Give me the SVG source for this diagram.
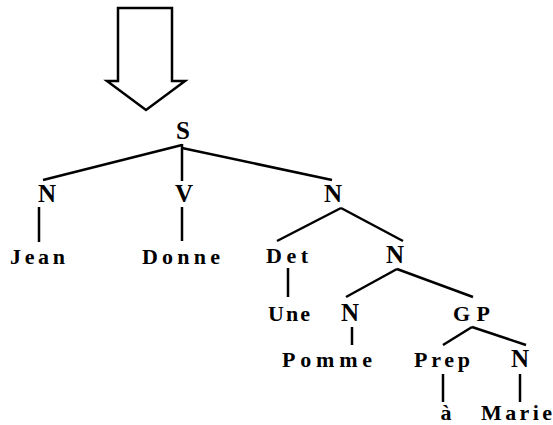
<svg xmlns="http://www.w3.org/2000/svg" width="553" height="425" viewBox="0 0 553 425">
  <style>
    .lbl { font-family: "Liberation Serif", "Times New Roman", serif; font-weight: bold; font-size: 25px; fill: #000; }
    .word { font-family: "Liberation Serif", "Times New Roman", serif; font-weight: bold; font-size: 22px; fill: #000; }
    .edge { stroke: #000; stroke-width: 2.5; fill: none; stroke-linecap: butt; }
  </style>
  <rect width="553" height="425" fill="#fff"/>

  <!-- hollow down arrow above the root -->
  <g id="arrow">
    <polygon points="118,8 172,8 172,81 185,81 146,110 107,81 118,81" fill="#fff" stroke="#000" stroke-width="2.5" stroke-linejoin="miter"/>
  </g>

  <g id="connectors">
    <line class="edge" x1="182" y1="145" x2="43" y2="180"/>
    <line class="edge" x1="182" y1="144" x2="182" y2="181"/>
    <line class="edge" x1="182" y1="148" x2="332" y2="180"/>
    <line class="edge" x1="39" y1="207" x2="39" y2="242"/>
    <line class="edge" x1="182" y1="207" x2="182" y2="241"/>
    <line class="edge" x1="341" y1="208" x2="277" y2="241"/>
    <line class="edge" x1="341" y1="208" x2="403" y2="241"/>
    <line class="edge" x1="288" y1="268" x2="288" y2="297"/>
    <line class="edge" x1="397" y1="269" x2="346" y2="297"/>
    <line class="edge" x1="397" y1="269" x2="473" y2="297"/>
    <line class="edge" x1="352" y1="327" x2="352" y2="345"/>
    <line class="edge" x1="472" y1="327" x2="443" y2="345"/>
    <line class="edge" x1="472" y1="327" x2="526" y2="345"/>
    <line class="edge" x1="443" y1="374" x2="443" y2="402"/>
    <line class="edge" x1="520" y1="374" x2="520" y2="402"/>
  </g>

  <g id="S"><text class="lbl" x="183" y="139" text-anchor="middle">S</text></g>
  <g id="N-jean"><text class="lbl" x="47" y="202" text-anchor="middle">N</text></g>
  <g id="V"><text class="lbl" x="184" y="202" text-anchor="middle">V</text></g>
  <g id="N-obj"><text class="lbl" x="333" y="202" text-anchor="middle">N</text></g>
  <g id="Jean"><text class="word" x="10" y="264" textLength="55" lengthAdjust="spacing">Jean</text></g>
  <g id="Donne"><text class="word" x="142" y="264" textLength="78" lengthAdjust="spacing">Donne</text></g>
  <g id="Det"><text class="word" x="266" y="263" textLength="42" lengthAdjust="spacing">Det</text></g>
  <g id="N-nom"><text class="lbl" x="395" y="263" text-anchor="middle">N</text></g>
  <g id="Une"><text class="word" x="268" y="321" textLength="42" lengthAdjust="spacing">Une</text></g>
  <g id="N-pomme"><text class="lbl" x="350" y="321" text-anchor="middle">N</text></g>
  <g id="GP"><text class="word" x="453" y="321" textLength="37" lengthAdjust="spacing">GP</text></g>
  <g id="Pomme"><text class="word" x="282" y="367" textLength="90" lengthAdjust="spacing">Pomme</text></g>
  <g id="Prep"><text class="word" x="414" y="367" textLength="56" lengthAdjust="spacing">Prep</text></g>
  <g id="N-marie"><text class="lbl" x="520" y="367" text-anchor="middle">N</text></g>
  <g id="a"><text class="word" x="446" y="420" text-anchor="middle">à</text></g>
  <g id="Marie"><text class="word" x="481" y="420" textLength="71" lengthAdjust="spacing">Marie</text></g>
</svg>
